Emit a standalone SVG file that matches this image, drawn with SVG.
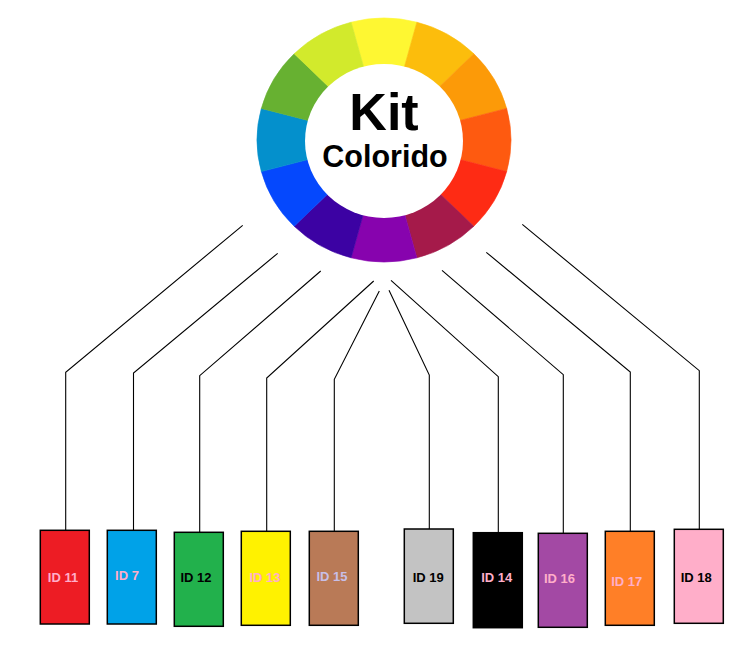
<svg xmlns="http://www.w3.org/2000/svg" width="753" height="662" viewBox="0 0 753 662">
<style>
.seg{stroke-width:0.6}
.box{stroke:#000;stroke-width:1.5}
.lbl{font-family:"Liberation Sans",Arial,sans-serif;font-weight:bold;font-size:13px;text-anchor:middle;dominant-baseline:central}
.title{font-family:"Liberation Sans",Arial,sans-serif;font-weight:bold;fill:#000;text-anchor:middle}
.conn{fill:none;stroke:#000;stroke-width:1.1}
</style>
<rect width="753" height="662" fill="#fff"/>
<g id="wheel">
<path class="seg" fill="#FEF732" stroke="#FEF732" d="M384 140 L351.13 22.16 A127 122 0 0 1 416.87 22.16 Z"/>
<path class="seg" fill="#FCBD0C" stroke="#FCBD0C" d="M384 140 L416.87 22.16 A127 122 0 0 1 473.80 53.73 Z"/>
<path class="seg" fill="#FC9A08" stroke="#FC9A08" d="M384 140 L473.80 53.73 A127 122 0 0 1 506.67 108.43 Z"/>
<path class="seg" fill="#FE5A10" stroke="#FE5A10" d="M384 140 L506.67 108.43 A127 122 0 0 1 506.67 171.57 Z"/>
<path class="seg" fill="#FE2B14" stroke="#FE2B14" d="M384 140 L506.67 171.57 A127 122 0 0 1 473.80 226.27 Z"/>
<path class="seg" fill="#A51A4A" stroke="#A51A4A" d="M384 140 L473.80 226.27 A127 122 0 0 1 416.87 257.84 Z"/>
<path class="seg" fill="#8703AE" stroke="#8703AE" d="M384 140 L416.87 257.84 A127 122 0 0 1 351.13 257.84 Z"/>
<path class="seg" fill="#3C02A3" stroke="#3C02A3" d="M384 140 L351.13 257.84 A127 122 0 0 1 294.20 226.27 Z"/>
<path class="seg" fill="#0548FD" stroke="#0548FD" d="M384 140 L294.20 226.27 A127 122 0 0 1 261.33 171.57 Z"/>
<path class="seg" fill="#0490CC" stroke="#0490CC" d="M384 140 L261.33 171.57 A127 122 0 0 1 261.33 108.43 Z"/>
<path class="seg" fill="#67B131" stroke="#67B131" d="M384 140 L261.33 108.43 A127 122 0 0 1 294.20 53.73 Z"/>
<path class="seg" fill="#D2EA2C" stroke="#D2EA2C" d="M384 140 L294.20 53.73 A127 122 0 0 1 351.13 22.16 Z"/>
<ellipse cx="384" cy="141" rx="79" ry="77" fill="#fff"/>
<text class="title" x="384" y="130" font-size="52">Kit</text>
<text class="title" x="385" y="167" font-size="30.5">Colorido</text>
</g>
<g id="connectors">
<polyline class="conn" points="242.7,225.3 65.7,372.3 65.7,530.3"/>
<polyline class="conn" points="277.7,253.3 133.5,373 133.5,530.3"/>
<polyline class="conn" points="320.7,271 199.7,375.7 199.7,532.3"/>
<polyline class="conn" points="373.7,281 266.7,378 266.7,531.3"/>
<polyline class="conn" points="379.3,291 334.3,379.3 334.3,531.3"/>
<polyline class="conn" points="389,290.3 429.3,375 429.3,529"/>
<polyline class="conn" points="391,280.3 498.3,376.7 498.3,532.7"/>
<polyline class="conn" points="442,270.3 563.3,374.7 563.3,533.3"/>
<polyline class="conn" points="486.3,252.3 630.3,372 630.3,531.3"/>
<polyline class="conn" points="522.3,224.3 699.3,370.7 699.3,529.3"/>
</g>
<g id="id11"><rect class="box" x="40.3" y="530.3" width="49" height="93.7" fill="#ED1C24"/><text class="lbl" x="63" y="577" fill="#FFAEC9">ID 11</text></g>
<g id="id7"><rect class="box" x="107.3" y="530.3" width="49" height="93.7" fill="#00A2E8"/><text class="lbl" x="127" y="575" fill="#FFAEC9">ID 7</text></g>
<g id="id12"><rect class="box" x="174.3" y="532.3" width="49" height="94" fill="#22B14C"/><text class="lbl" x="196" y="577" fill="#000">ID 12</text></g>
<g id="id13"><rect class="box" x="241.3" y="531.3" width="49" height="94" fill="#FFF200"/><text class="lbl" x="265" y="577" fill="#FFAEC9">ID 13</text></g>
<g id="id15"><rect class="box" x="309.3" y="531.3" width="49" height="94" fill="#B97A57"/><text class="lbl" x="332" y="576" fill="#C8BFE7">ID 15</text></g>
<g id="id19"><rect class="box" x="404.3" y="529" width="49" height="94.3" fill="#C3C3C3"/><text class="lbl" x="428.3" y="577" fill="#000">ID 19</text></g>
<g id="id14"><rect class="box" x="473.3" y="532.7" width="49" height="95" fill="#000"/><text class="lbl" x="496.7" y="577" fill="#FFAEC9">ID 14</text></g>
<g id="id16"><rect class="box" x="538.3" y="533.3" width="49" height="94" fill="#A349A4"/><text class="lbl" x="559.5" y="578" fill="#FFAEC9">ID 16</text></g>
<g id="id17"><rect class="box" x="605.3" y="531.3" width="49" height="94" fill="#FF7F27"/><text class="lbl" x="626.8" y="581" fill="#FFAEC9">ID 17</text></g>
<g id="id18"><rect class="box" x="674.3" y="529.3" width="49" height="94" fill="#FFAEC9"/><text class="lbl" x="696.3" y="577" fill="#000">ID 18</text></g>
</svg>
